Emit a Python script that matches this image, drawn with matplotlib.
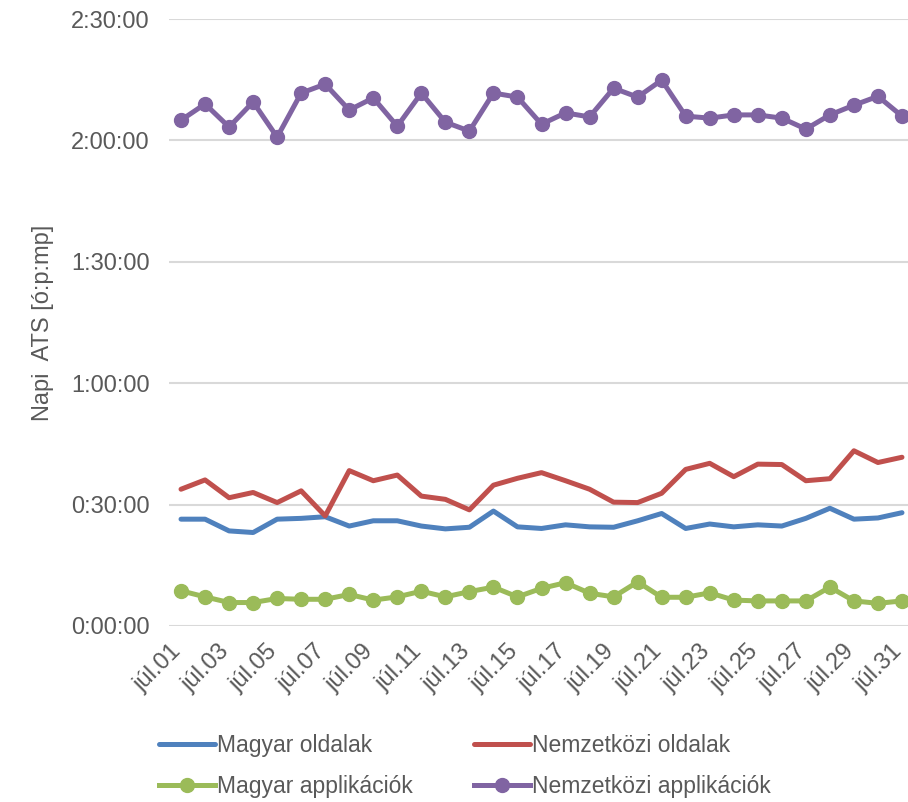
import matplotlib
matplotlib.use("Agg")
import matplotlib.pyplot as plt
import matplotlib.transforms as mtransforms
from matplotlib.ticker import FuncFormatter, MultipleLocator

plt.rcParams['font.family'] = ['Liberation Sans', 'DejaVu Sans']

days = [f"júl.{d:02d}" for d in range(1, 32)]

# values in minutes
magyar_oldalak = [26.4, 26.4, 23.5, 23.1, 26.4, 26.6, 27.0, 24.7, 26.0, 26.0,
                  24.7, 24.0, 24.4, 28.4, 24.5, 24.1, 25.0, 24.5, 24.4, 26.0,
                  27.8, 24.1, 25.2, 24.5, 25.0, 24.7, 26.6, 29.1, 26.4, 26.7, 28.0]
nemzetkozi_oldalak = [33.8, 36.1, 31.7, 33.0, 30.5, 33.4, 27.2, 38.4, 35.9, 37.3,
                      32.1, 31.3, 28.7, 34.8, 36.5, 37.9, 35.9, 33.8, 30.6, 30.5,
                      32.8, 38.7, 40.2, 36.9, 40.0, 39.9, 35.9, 36.4, 43.3, 40.4, 41.7]
magyar_app = [8.7, 7.2, 5.8, 5.8, 6.8, 6.6, 6.6, 7.8, 6.4, 7.2,
              8.6, 7.2, 8.5, 9.6, 7.2, 9.3, 10.7, 8.1, 7.2, 10.9,
              7.1, 7.1, 8.2, 6.4, 6.2, 6.2, 6.2, 9.6, 6.2, 5.6, 6.2]
nemzetkozi_app = [125.0, 129.0, 123.3, 129.5, 120.8, 131.7, 133.9, 127.5, 130.5, 123.5,
                  131.7, 124.5, 122.3, 131.7, 130.7, 124.0, 126.8, 125.8, 132.9, 130.7,
                  134.9, 126.0, 125.5, 126.3, 126.3, 125.5, 122.8, 126.3, 128.7, 130.9, 126.0]

series_names = ["Magyar oldalak", "Nemzetközi oldalak", "Magyar applikációk", "Nemzetközi applikációk"]
colors = ["#4F81BD", "#C0504D", "#9BBB59", "#8064A2"]

fig = plt.figure(figsize=(9.08, 8.02), dpi=100)
ax = fig.add_axes([169/908, 176/802, 745/908, 607/802])

x = list(range(len(days)))
l1, = ax.plot(x, magyar_oldalak, color=colors[0], lw=3.6, solid_capstyle='round', solid_joinstyle='round')
l2, = ax.plot(x, nemzetkozi_oldalak, color=colors[1], lw=3.6, solid_capstyle='round', solid_joinstyle='round')
l3, = ax.plot(x, magyar_app, color=colors[2], lw=3.6, marker='o', ms=10, solid_joinstyle='round')
l4, = ax.plot(x, nemzetkozi_app, color=colors[3], lw=3.6, marker='o', ms=10, solid_joinstyle='round')

ax.set_xlim(-0.5, len(days) - 0.5)
ax.set_ylim(0, 150)
ax.yaxis.set_major_locator(MultipleLocator(30))
ax.yaxis.set_major_formatter(FuncFormatter(lambda v, p: f"{int(v)//60}:{int(v)%60:02d}:00"))
ax.grid(axis='y', color='#D9D9D9', lw=1.5)
ax.set_axisbelow(True)
for s in ax.spines.values():
    s.set_visible(False)

ax.set_xticks(x[::2])
ax.set_xticklabels(days[::2], rotation=45, ha='right', va='center', rotation_mode='anchor')
ax.tick_params(axis='both', length=0, labelsize=17, labelcolor='#595959')
ax.tick_params(axis='x', pad=16)
ax.tick_params(axis='y', pad=14)
offset = mtransforms.ScaledTranslation(-3/100, 0, fig.dpi_scale_trans)
for lab in ax.get_xticklabels():
    lab.set_transform(lab.get_transform() + offset)

ax.set_ylabel("Napi  ATS [ó:p:mp]", fontsize=17, color='#595959', labelpad=12)

leg = fig.legend([l1, l3, l2, l4],
                 [series_names[0], series_names[2], series_names[1], series_names[3]],
                 ncol=2, loc='center', bbox_to_anchor=(0.512, 0.045), frameon=False,
                 fontsize=16.5, handlelength=2.45, handletextpad=0.1, columnspacing=2.65,
                 labelspacing=0.8, labelcolor='#595959')

fig.savefig("out.png", dpi=100)
